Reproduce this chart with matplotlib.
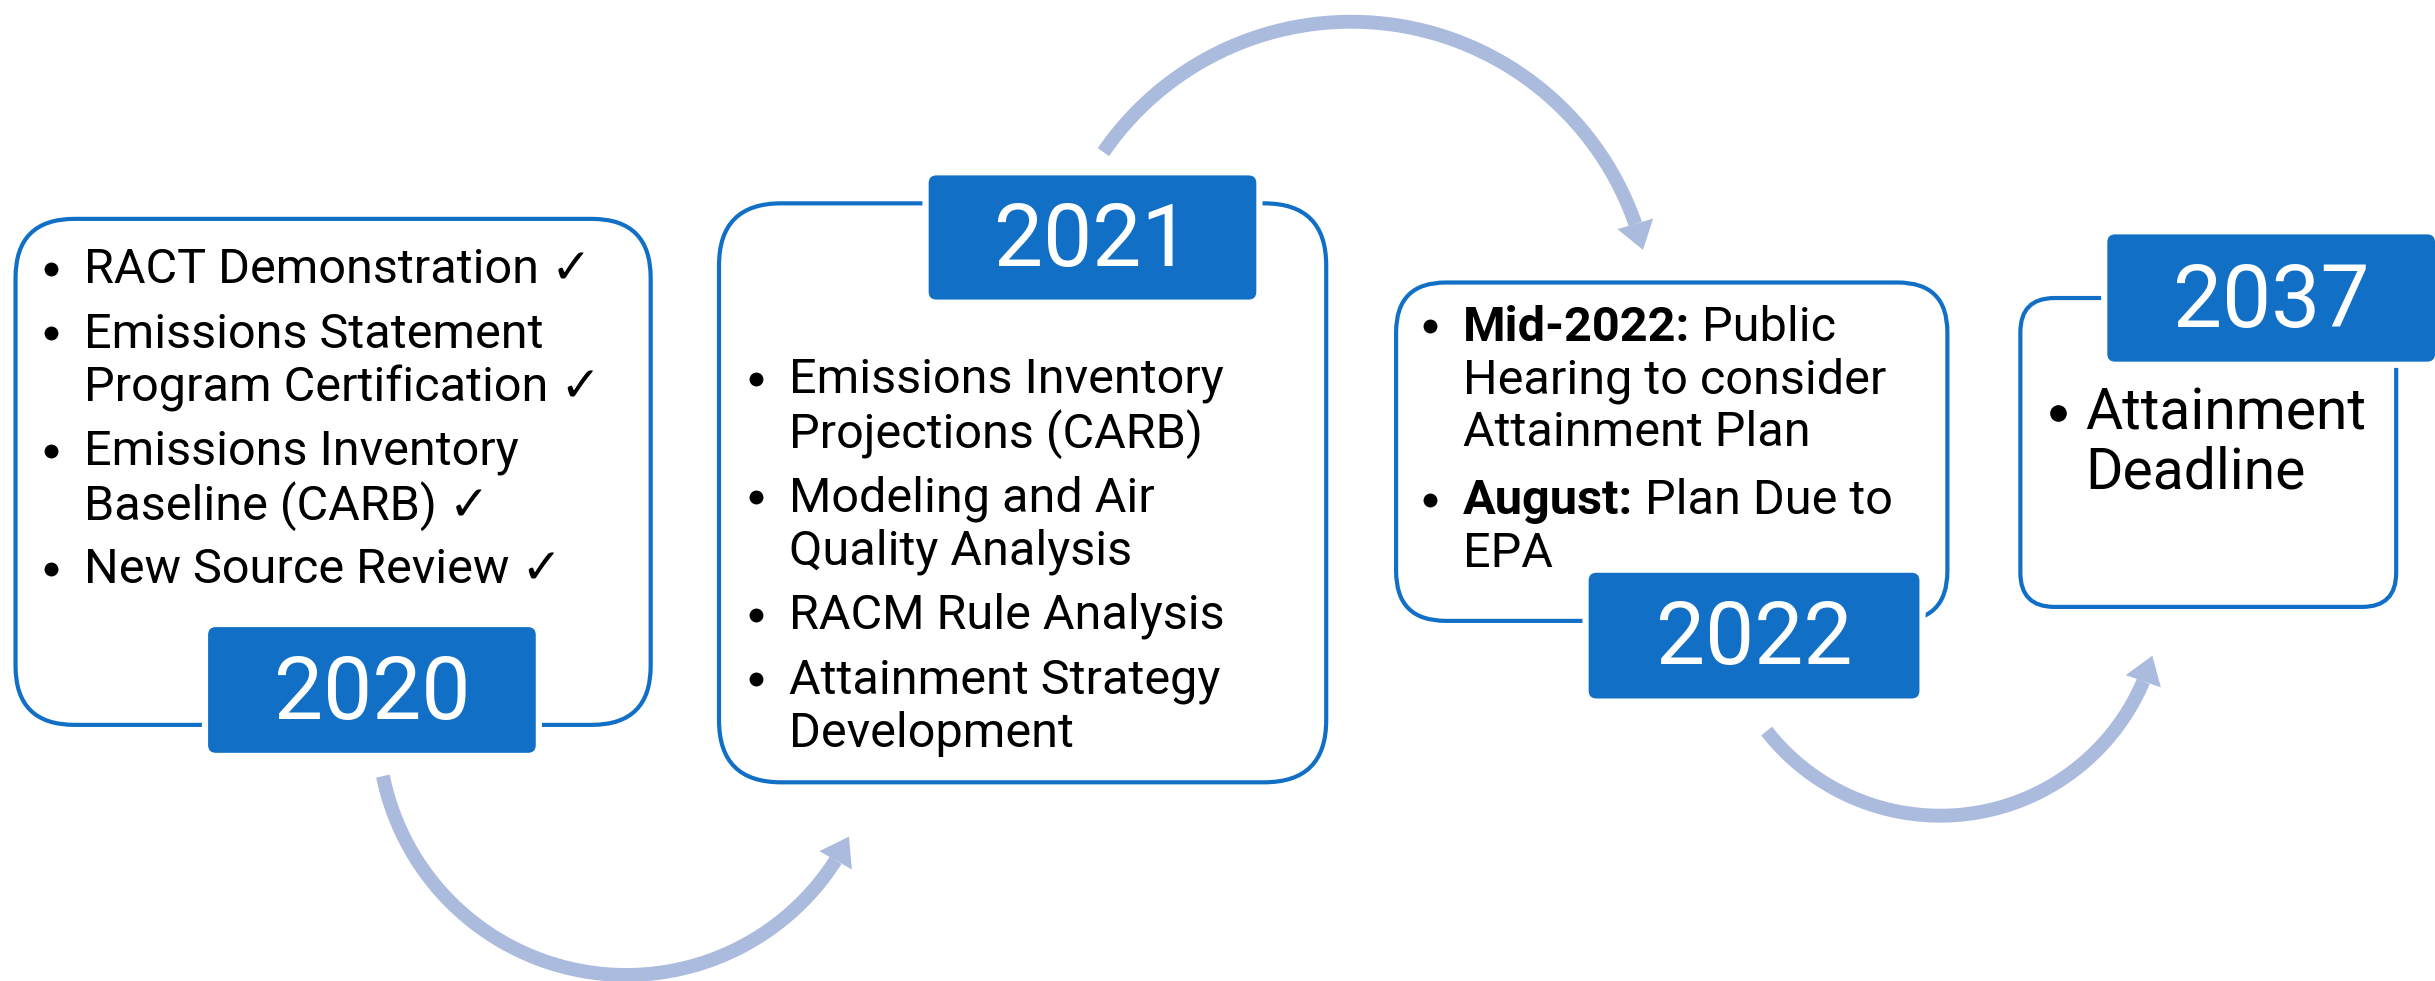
import numpy as np
import matplotlib
matplotlib.use("Agg")
import matplotlib.pyplot as plt
from matplotlib.patches import FancyBboxPatch, Polygon

# ---------------- data ----------------
years = ["2020", "2021", "2022", "2037"]

items_2020 = [["RACT Demonstration \u2713"],
              ["Emissions Statement", "Program Certification \u2713"],
              ["Emissions Inventory", "Baseline (CARB) \u2713"],
              ["New Source Review \u2713"]]
items_2021 = [["Emissions Inventory", "Projections (CARB)"],
              ["Modeling and Air", "Quality Analysis"],
              ["RACM Rule Analysis"],
              ["Attainment Strategy", "Development"]]
items_2022 = [[("Mid-2022:", "Public"), "Hearing to consider", "Attainment Plan"],
              [("August:", "Plan Due to"), "EPA"]]
items_2037 = [["Attainment", "Deadline"]]
items = [items_2020, items_2021, items_2022, items_2037]

# ---------------- style ----------------
BLUE = "#1170C6"
ARROW = "#ABBBDE"
FONT = ["Roboto", "DejaVu Sans"]
plt.rcParams["font.family"] = FONT

fig = plt.figure(figsize=(24.35, 9.81), dpi=100)
ax = fig.add_axes([0, 0, 1, 1])
ax.set_xlim(0, 1568)
ax.set_ylim(632, 0)
ax.axis("off")

# layout: outer box (x0, y0, x1, y1, radius), year box (x0, y0, x1, y1),
# bullet x, text x, first line y, font size, line step, bullet gap
layout = [
    dict(outer=(10, 141, 419, 467, 38), ybox=(134, 404, 345, 485),
         bx=33, tx=54, y0=174, fs=35, step=34.5, gap=41.5, ms=10),
    dict(outer=(463, 131, 854, 504, 40), ybox=(598, 113, 809, 193),
         bx=487, tx=508, y0=245, fs=35, step=34.5, gap=41.5, ms=10),
    dict(outer=(899, 182, 1254, 400, 32), ybox=(1023, 369, 1236, 450),
         bx=921, tx=942, y0=211, fs=35, step=34.0, gap=44, ms=10),
    dict(outer=(1301, 192, 1543, 391, 22), ybox=(1357, 151, 1568, 233),
         bx=1325, tx=1343, y0=267, fs=41, step=38, gap=44, ms=12),
]

for yr, its, L in zip(years, items, layout):
    x0, y0, x1, y1, r = L["outer"]
    ax.add_patch(FancyBboxPatch((x0, y0), x1 - x0, y1 - y0,
                                boxstyle=f"round,pad=0,rounding_size={r}",
                                fc="white", ec=BLUE, lw=3, zorder=1))
    bx0, by0, bx1, by1 = L["ybox"]
    pad = 4
    ax.add_patch(FancyBboxPatch((bx0 - pad, by0 - pad), bx1 - bx0 + 2 * pad,
                                by1 - by0 + 2 * pad,
                                boxstyle="round,pad=0,rounding_size=6",
                                fc="white", ec="none", zorder=2))
    ax.add_patch(FancyBboxPatch((bx0, by0), bx1 - bx0, by1 - by0,
                                boxstyle="round,pad=0,rounding_size=5",
                                fc=BLUE, ec="none", zorder=3))
    ax.text((bx0 + bx1) / 2, (by0 + by1) / 2 + 3, yr, color="white",
            fontsize=63, fontweight="normal", ha="center", va="center",
            zorder=4)

    y = L["y0"]
    for bi, bullet in enumerate(its):
        if bi > 0:
            y += L["gap"]
        ax.plot([L["bx"]], [y - 1], "o", ms=L["ms"], color="black",
                mec="none", zorder=4)
        for li, line in enumerate(bullet):
            if li > 0:
                y += L["step"]
            if isinstance(line, tuple):
                t = ax.text(L["tx"], y, line[0], fontsize=L["fs"],
                            fontweight="bold", ha="left", va="center",
                            zorder=4)
                ax.annotate(" " + line[1], xy=(1, 0), xycoords=t,
                            fontsize=L["fs"], ha="left", va="bottom",
                            zorder=4)
            else:
                ax.text(L["tx"], y, line, fontsize=L["fs"], ha="left",
                        va="center", zorder=4)

# ---------------- curved arrows (circular arcs) ----------------
# (start, point on arc, arrow tip)
arrows = [((246.6, 500), (397, 628), (546.7, 539)),
          ((710.5, 98), (870, 14), (1058, 161)),
          ((1137.6, 471), (1249, 525.5), (1386, 422.4))]
HEAD_L, HEAD_W, SHAFT_LW = 17.5, 24, 10


def circle3(a, b, c):
    a, b, c = map(np.asarray, (a, b, c))
    A = np.array([b - a, c - b]) * 2
    rhs = np.array([b @ b - a @ a, c @ c - b @ b])
    ctr = np.linalg.solve(A, rhs)
    return ctr, np.linalg.norm(a - ctr)


for a, b, c in arrows:
    ctr, rad = circle3(a, b, c)
    ta = np.arctan2(a[1] - ctr[1], a[0] - ctr[0])
    tb = np.arctan2(b[1] - ctr[1], b[0] - ctr[0])
    tc = np.arctan2(c[1] - ctr[1], c[0] - ctr[0])
    d_ab = (tb - ta) % (2 * np.pi)
    d_ac = (tc - ta) % (2 * np.pi)
    sweep = d_ac if d_ab < d_ac else d_ac - 2 * np.pi
    end_ang = ta + sweep - np.sign(sweep) * (HEAD_L / rad)
    th = np.linspace(ta, end_ang, 200)
    xs = ctr[0] + rad * np.cos(th)
    ys = ctr[1] + rad * np.sin(th)
    ax.plot(xs, ys, color=ARROW, lw=SHAFT_LW, solid_capstyle="butt",
            zorder=0)
    base = np.array([xs[-1], ys[-1]])
    tip = np.asarray(c)
    t = (tip - base) / np.linalg.norm(tip - base)
    n = np.array([-t[1], t[0]])
    base = tip - HEAD_L * t
    head = [tip, base + n * HEAD_W / 2, base - n * HEAD_W / 2]
    ax.add_patch(Polygon(head, closed=True, fc=ARROW, ec="none", zorder=0))

fig.savefig("out.png", dpi=100, facecolor="white")
